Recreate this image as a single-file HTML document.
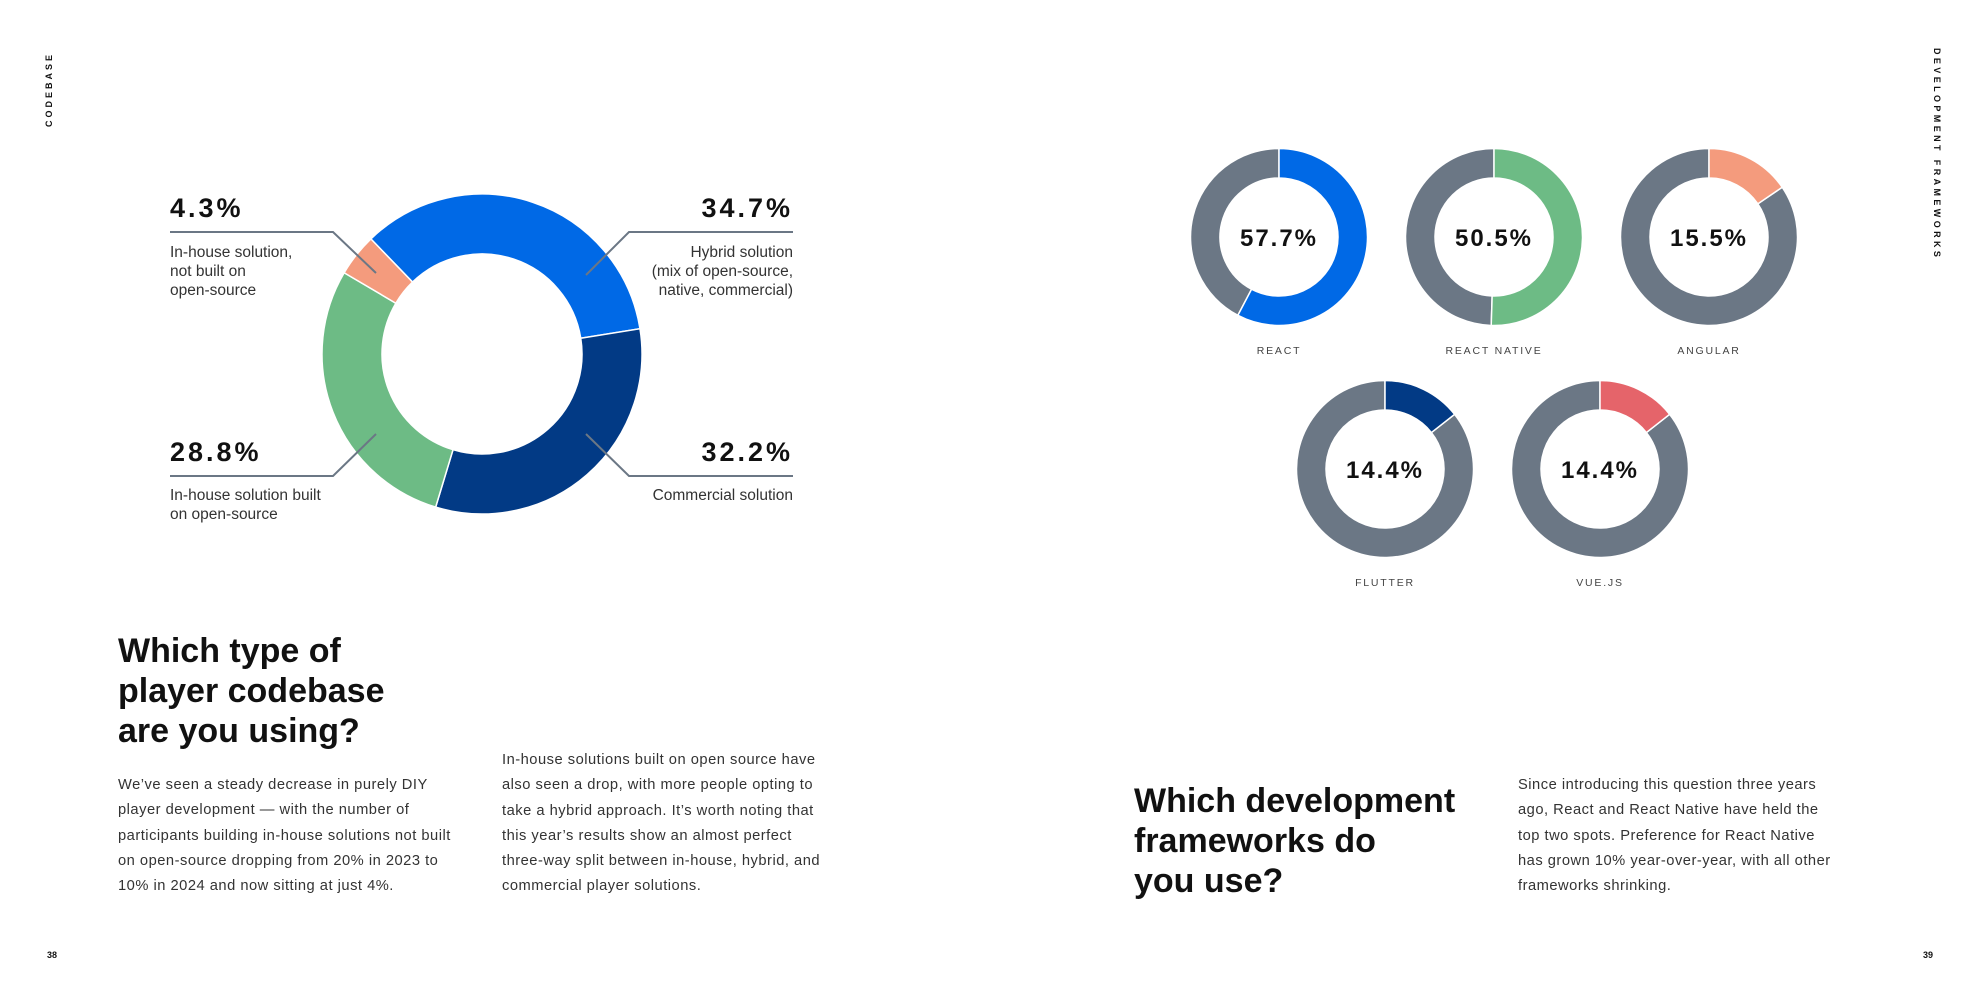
<!DOCTYPE html>
<html><head><meta charset="utf-8"><style>
body{margin:0;width:1984px;height:992px;background:#fff;position:relative;overflow:hidden;font-family:"Liberation Sans",sans-serif;color:#222}
.a{position:absolute}
.big{font-weight:bold;font-size:27px;letter-spacing:3px;color:#111}
.lbl{font-size:15.5px;line-height:19px;color:#333}
.h{font-weight:bold;font-size:34px;line-height:40px;color:#111}
.p{font-size:14.7px;line-height:25.3px;color:#333;letter-spacing:0.5px;white-space:nowrap}
.side{font-size:9px;font-weight:bold;letter-spacing:3px;color:#111}
</style></head><body>
<div class="a side" style="left:44px;top:127px;transform:rotate(-90deg);transform-origin:0 0">CODEBASE</div>
<div class="a side" style="left:1942px;top:48px;transform:rotate(90deg);transform-origin:0 0;white-space:nowrap;letter-spacing:3.4px">DEVELOPMENT FRAMEWORKS</div>
<div class="a side" style="left:47px;top:950px;letter-spacing:0">38</div>
<div class="a side" style="left:1923px;top:950px;letter-spacing:0">39</div>

<svg class="a" style="left:0;top:0" width="1984" height="992">
<g id="main"></g>
<g stroke="#6b7785" stroke-width="2" fill="none">
<polyline points="170,232 333,232 376,273"/>
<polyline points="793,232 629,232 586,275"/>
<polyline points="170,476 333,476 376,434"/>
<polyline points="793,476 629,476 586,434"/>
</g>
<g id="small"></g>
</svg>

<div class="a big" style="left:170px;top:193px">4.3%</div>
<div class="a lbl" style="left:170px;top:243px">In-house solution,<br>not built on<br>open-source</div>
<div class="a big" style="right:1191px;top:193px">34.7%</div>
<div class="a lbl" style="right:1191px;top:243px;text-align:right">Hybrid solution<br>(mix of open-source,<br>native, commercial)</div>
<div class="a big" style="left:170px;top:437px">28.8%</div>
<div class="a lbl" style="left:170px;top:486px">In-house solution built<br>on open-source</div>
<div class="a big" style="right:1191px;top:437px">32.2%</div>
<div class="a lbl" style="right:1191px;top:486px;text-align:right">Commercial solution</div>

<div class="a h" style="left:118px;top:631px">Which type of<br>player codebase<br>are you using?</div>
<div class="a p" style="left:118px;top:773px">We’ve seen a steady decrease in purely DIY<br>player development — with the number of<br>participants building in-house solutions not built<br>on open-source dropping from 20% in 2023 to<br>10% in 2024 and now sitting at just 4%.</div>
<div class="a p" style="left:502px;top:748px">In-house solutions built on open source have<br>also seen a drop, with more people opting to<br>take a hybrid approach. It’s worth noting that<br>this year’s results show an almost perfect<br>three-way split between in-house, hybrid, and<br>commercial player solutions.</div>
<div class="a h" style="left:1134px;top:781px">Which development<br>frameworks do<br>you use?</div>
<div class="a p" style="left:1518px;top:773px">Since introducing this question three years<br>ago, React and React Native have held the<br>top two spots. Preference for React Native<br>has grown 10% year-over-year, with all other<br>frameworks shrinking.</div>

<script>
const mainCategories=['Hybrid solution','Commercial solution','In-house built on open-source','In-house not built on open-source'];
const mainValues=[34.7,32.2,28.8,4.3];
const mainColors=['#0069e6','#023a85','#6dbb85','#f49b7d'];
const fwNames=['REACT','REACT NATIVE','ANGULAR','FLUTTER','VUE.JS'];
const fwValues=[57.7,50.5,15.5,14.4,14.4];
const fwColors=['#0069e6','#6dbb85','#f49b7d','#023a85','#e5646a'];
const NS='http://www.w3.org/2000/svg';
function pt(cx,cy,r,a){const t=a*Math.PI/180;return [cx+r*Math.sin(t),cy-r*Math.cos(t)];}
function arc(cx,cy,ro,ri,a0,a1){
 const l=(a1-a0)>180?1:0;const p1=pt(cx,cy,ro,a0),p2=pt(cx,cy,ro,a1),p3=pt(cx,cy,ri,a1),p4=pt(cx,cy,ri,a0);
 return `M${p1}A${ro},${ro} 0 ${l} 1 ${p2}L${p3}A${ri},${ri} 0 ${l} 0 ${p4}Z`;}
function seg(g,d,fill,name){const p=document.createElementNS(NS,'path');p.setAttribute('d',d);p.setAttribute('fill',fill);p.setAttribute('stroke','#fff');p.setAttribute('stroke-width','1.5');


g.appendChild(p);}
const mg=document.getElementById('main');
const total=mainValues.reduce((a,b)=>a+b,0);
let a=-44;
mainValues.forEach((v,i)=>{const s=v/total*360;seg(mg,arc(482,354,160,100,a,a+s),mainColors[i],'slice-'+i);a+=s;});
const sg=document.getElementById('small');
const cxs=[1279,1494,1709,1385,1600],cys=[237,237,237,469,469];
fwValues.forEach((v,i)=>{
 const cx=cxs[i],cy=cys[i],s=v/100*360;
 seg(sg,arc(cx,cy,88.5,59,s,360),'#6b7785','rest-'+i);
 seg(sg,arc(cx,cy,88.5,59,0,s),fwColors[i],'share-'+i);
 const t=document.createElementNS(NS,'text');t.setAttribute('x',cx);t.setAttribute('y',cy+9);t.setAttribute('text-anchor','middle');
 t.setAttribute('font-size','24');t.setAttribute('font-weight','bold');t.setAttribute('letter-spacing','2');t.setAttribute('fill','#111');t.textContent=v.toFixed(1)+'%';
 
 
 sg.appendChild(t);
 const n=document.createElementNS(NS,'text');n.setAttribute('x',cx);n.setAttribute('y',cy+117);n.setAttribute('text-anchor','middle');
 n.setAttribute('font-size','10.5');n.setAttribute('letter-spacing','1.8');n.setAttribute('fill','#444');n.textContent=fwNames[i];
 
 
 sg.appendChild(n);
});
</script>
</body></html>
